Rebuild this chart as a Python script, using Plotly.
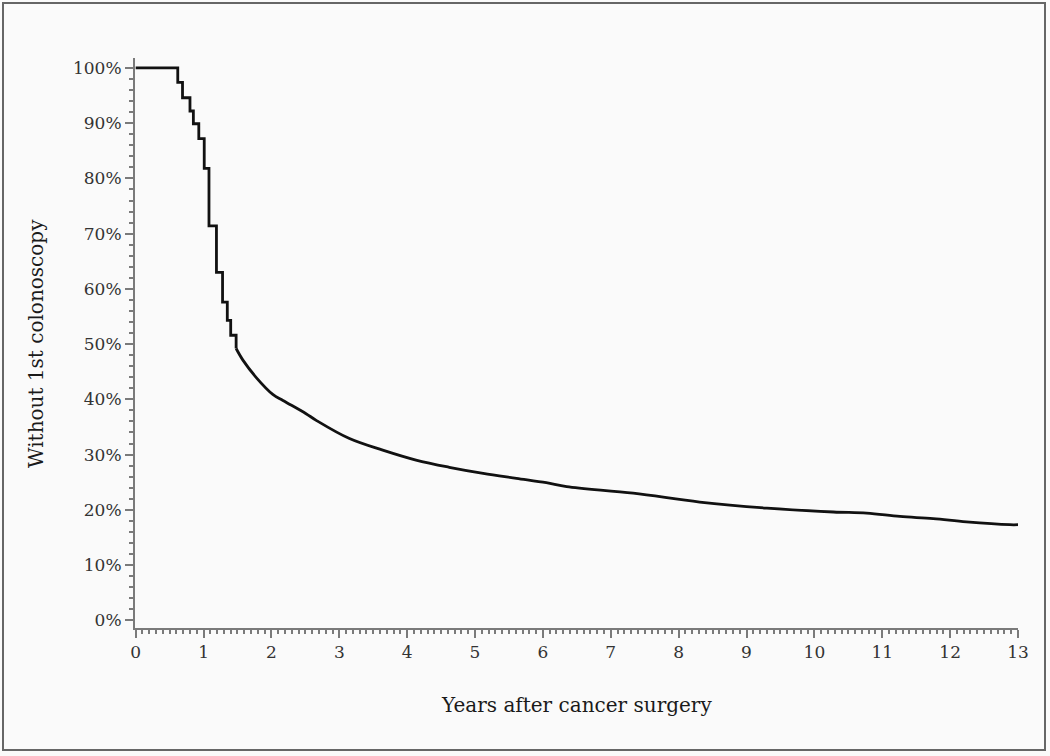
import plotly.graph_objects as go

# Kaplan-Meier style curve: share of patients still without a 1st colonoscopy
# early part (large discrete steps)
step_years = [0.0, 0.62, 0.69, 0.80, 0.85, 0.93, 1.01, 1.08, 1.19, 1.28, 1.35, 1.40, 1.48]
step_pct = [100.0, 97.4, 94.6, 92.2, 89.9, 87.2, 81.8, 71.4, 63.0, 57.6, 54.3, 51.6, 49.2]

# later part (many small steps, read as a smooth curve)
tail_years = [1.48, 1.58, 1.78, 2.02, 2.17, 2.51, 2.66, 3.15, 3.64, 4.13, 4.62, 5.12,
              5.61, 6.05, 6.35, 7.33, 8.31, 9.30, 10.28, 10.77, 11.26, 11.75, 12.24,
              12.88, 13.0]
tail_pct = [49.2, 47.1, 43.9, 40.9, 39.8, 37.4, 36.2, 32.9, 30.8, 29.0, 27.7, 26.6,
            25.7, 24.9, 24.2, 23.0, 21.4, 20.3, 19.6, 19.4, 18.8, 18.4, 17.8,
            17.3, 17.3]

x_ticks = list(range(0, 14))
y_ticks = list(range(0, 101, 10))
y_labels = [f"{v}%" for v in y_ticks]

FONT = "DejaVu Serif"
TEXT = "#333333"
AXIS = "#7a7a7a"

W, H = 1050, 756
L, R, T, B = 135, 32, 58, 128
PW, PH = W - L - R, H - T - B


def px_x(x):
    return (x - L) / PW


def px_y(y):
    return (H - B - y) / PH


fig = go.Figure()

fig.add_trace(go.Scatter(
    x=step_years, y=step_pct, mode="lines", line_shape="hv",
    line=dict(color="#111111", width=2.8), showlegend=False, hoverinfo="skip"
))
fig.add_trace(go.Scatter(
    x=tail_years, y=tail_pct, mode="lines", line_shape="spline",
    line=dict(color="#111111", width=2.8), showlegend=False, hoverinfo="skip"
))

fig.update_xaxes(
    range=[-0.01, 13.0], tickvals=x_ticks, ticks="outside", ticklen=8, tickwidth=2,
    tickcolor=AXIS, showline=True, linecolor=AXIS, linewidth=2, showgrid=False,
    zeroline=False, tickfont=dict(family=FONT, size=17, color=TEXT),
    minor=dict(dtick=0.1, ticks="outside", ticklen=4, tickwidth=1.5, tickcolor=AXIS,
               showgrid=False),
)
fig.update_yaxes(
    range=[-1.4, 101.8], tickvals=y_ticks, ticktext=y_labels, ticks="outside", ticklen=8,
    tickwidth=2, tickcolor=AXIS, showline=True, linecolor=AXIS, linewidth=2,
    showgrid=False, zeroline=False, tickfont=dict(family=FONT, size=17, color=TEXT),
    minor=dict(dtick=2, ticks="outside", ticklen=4, tickwidth=1.5, tickcolor=AXIS,
               showgrid=False),
)

fig.add_annotation(
    text="Years after cancer surgery", xref="paper", yref="paper",
    x=px_x(576), y=px_y(705), xanchor="center", yanchor="middle", showarrow=False,
    font=dict(family=FONT, size=20, color="#1a1a1a")
)
fig.add_annotation(
    text="Without 1st colonoscopy", xref="paper", yref="paper",
    x=px_x(36), y=px_y(344), xanchor="center", yanchor="middle", showarrow=False,
    textangle=-90, font=dict(family=FONT, size=20, color="#1a1a1a")
)

# outer frame around the whole picture
fig.add_shape(
    type="rect", xref="paper", yref="paper",
    x0=px_x(3), x1=px_x(1045), y0=px_y(750), y1=px_y(3),
    line=dict(color="#666666", width=2), fillcolor="rgba(0,0,0,0)"
)

fig.update_layout(
    width=W, height=H,
    margin=dict(l=L, r=R, t=T, b=B),
    paper_bgcolor="#fafafa", plot_bgcolor="#fafafa",
    font=dict(family=FONT, color=TEXT),
)

fig.write_html("out.html", config={"displayModeBar": False},
               post_script="document.body.style.margin='0';")
